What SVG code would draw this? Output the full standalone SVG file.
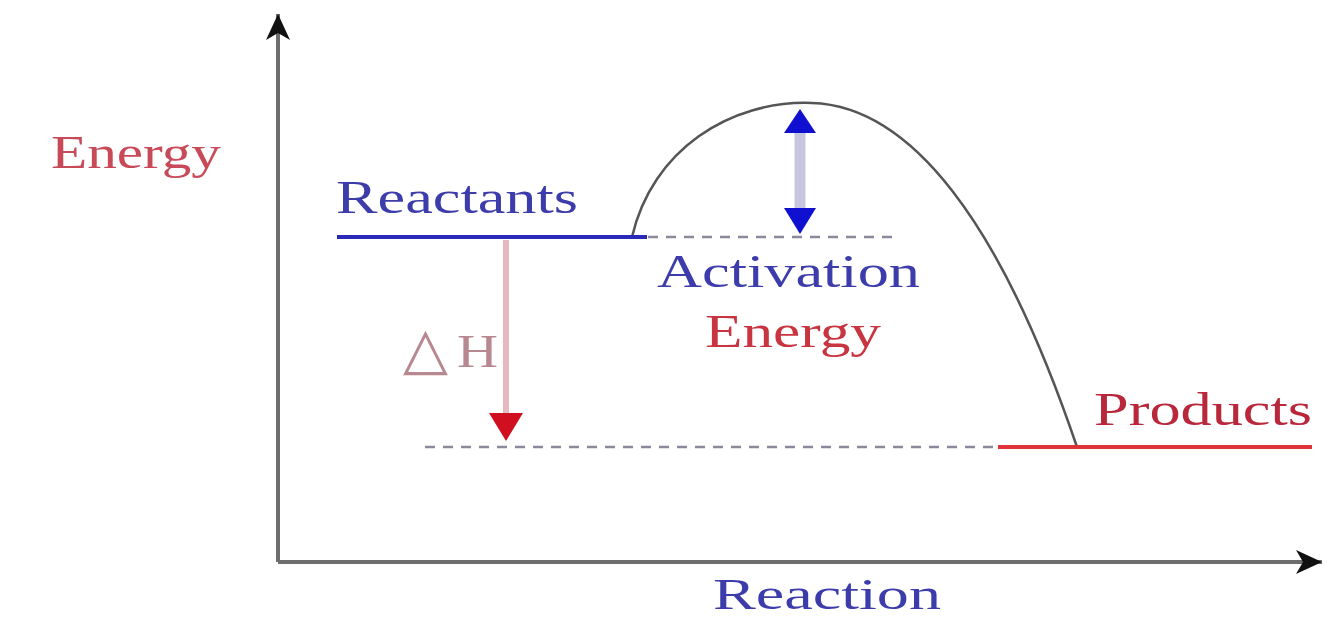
<svg xmlns="http://www.w3.org/2000/svg" width="1338" height="619" viewBox="0 0 1338 619">
<style>
.t{font-family:"Liberation Serif","Times New Roman",serif;font-size:46px}
.blue{fill:#3c3cab}
.red{fill:#c8343f}
.dash{stroke:#8a8a9a;stroke-width:2.5;stroke-dasharray:10 8;fill:none}
.axis{stroke:#6e6e6e;stroke-width:4;fill:none}
</style>
<defs>
<marker id="axhead" markerUnits="userSpaceOnUse" markerWidth="30" markerHeight="30" viewBox="0 0 30 30" refX="28" refY="15" orient="auto">
<path d="M2,3 L28,15 L2,27 L9,15 Z" fill="#111"/>
</marker>
</defs>
<rect width="1338" height="619" fill="#fff"/>
<g id="axes">
<line class="axis" x1="278" y1="562" x2="278" y2="14" marker-end="url(#axhead)"/>
<line class="axis" x1="278" y1="562" x2="1322" y2="562" stroke="#bbbbbb" marker-end="url(#axhead)"/>
</g>
<g id="connectors">
<line class="dash" x1="648" y1="237" x2="892" y2="237"/>
<line class="dash" x1="425" y1="447" x2="1000" y2="447"/>
<path d="M632,237 C652,150 730,100 812,103 C910,106 1000,220 1077,447" fill="none" stroke="#555" stroke-width="2.5"/>
<g id="activation-arrow">
<line x1="800" y1="130" x2="800" y2="210" stroke="#c6c6e0" stroke-width="11"/>
<path d="M800,109 L816,133 L784,133 Z" fill="#1010d0"/>
<path d="M800,234 L816,208 L784,208 Z" fill="#1010d0"/>
</g>
<g id="dh-arrow">
<line x1="506" y1="240" x2="506" y2="416" stroke="#e8b8c0" stroke-width="6"/>
<path d="M506,441 L523,413 L489,413 Z" fill="#d01020"/>
</g>
</g>
<g id="reactants">
<line x1="337" y1="237" x2="647" y2="237" stroke="#2a2ab8" stroke-width="4"/>
<text class="t blue" x="336" y="213" textLength="242" lengthAdjust="spacingAndGlyphs">Reactants</text>
</g>
<g id="products">
<line x1="998" y1="447" x2="1312" y2="447" stroke="#e03038" stroke-width="4"/>
<text class="t" fill="#b8283a" x="1094" y="425" textLength="218" lengthAdjust="spacingAndGlyphs">Products</text>
</g>
<g id="energy-axis-label">
<text class="t" fill="#c84a58" x="51" y="168" textLength="170" lengthAdjust="spacingAndGlyphs">Energy</text>
</g>
<g id="reaction-label">
<text class="t blue" x="713" y="609" font-size="44" style="font-size:44px" textLength="228" lengthAdjust="spacingAndGlyphs">Reaction</text>
</g>
<g id="activation-label">
<text class="t blue" x="657" y="287" textLength="263" lengthAdjust="spacingAndGlyphs">Activation</text>
<text class="t red" x="705" y="347" textLength="176" lengthAdjust="spacingAndGlyphs">Energy</text>
</g>
<g id="dh-label">
<text x="403" y="368" fill="#b88890" font-family="DejaVu Sans" font-size="58" textLength="45" lengthAdjust="spacingAndGlyphs">△</text>
<text class="t" x="457" y="367" fill="#b88890" textLength="41" lengthAdjust="spacingAndGlyphs">H</text>
</g>
</svg>
